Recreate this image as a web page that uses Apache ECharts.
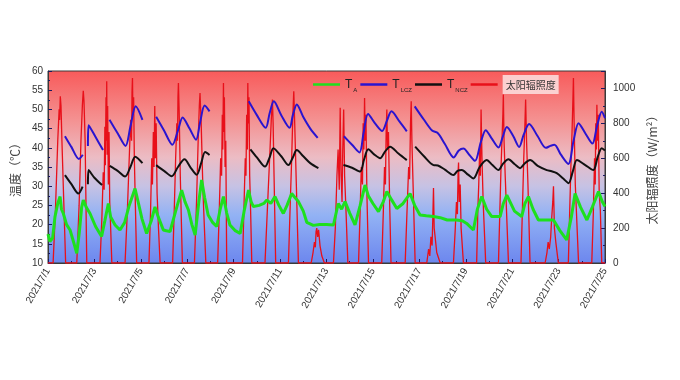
<!DOCTYPE html>
<html>
<head>
<meta charset="utf-8">
<script src="https://cdn.jsdelivr.net/npm/echarts@6/dist/echarts.min.js"></script>
<style>html,body{margin:0;padding:0;background:#fff;}#c{width:680px;height:380px;}</style>
</head>
<body>
<div id="c"></div>
<script>
// x = days since 2021/7/1 00:00
const tickLabels = ['2021/7/1','2021/7/3','2021/7/5','2021/7/7','2021/7/9','2021/7/11','2021/7/13','2021/7/15','2021/7/17','2021/7/19','2021/7/21','2021/7/23','2021/7/25'];
const seriesNames = ['TA', 'TLCZ', 'TNCZ', '太阳辐照度'];

// T_A (°C)
const taData = [[0,17.5],[0.08,15.6],[0.2,16.5],[0.3,22.0],[0.42,25.5],[0.52,27.3],[0.58,24.0],[0.66,22.9],[0.8,20.0],[0.95,18.6],[1.1,15.5],[1.24,12.5],[1.35,18.0],[1.45,24.5],[1.52,26.4],[1.65,24.5],[1.81,22.9],[2.05,19.5],[2.31,16.9],[2.45,21.0],[2.6,25.5],[2.7,22.0],[2.89,19.9],[3.1,18.6],[3.3,20.5],[3.5,25.0],[3.75,29.4],[3.9,25.5],[4.05,21.5],[4.25,17.7],[4.45,21.0],[4.61,24.6],[4.75,22.0],[4.97,18.6],[5.1,18.4],[5.26,18.2],[5.5,23.5],[5.76,29.0],[5.9,26.0],[6.05,23.8],[6.2,20.0],[6.34,17.3],[6.5,26.0],[6.62,31.6],[6.75,27.0],[6.9,22.5],[7.1,20.5],[7.27,19.5],[7.42,24.0],[7.56,27.3],[7.7,23.0],[7.84,19.9],[8.05,18.5],[8.28,17.7],[8.45,23.5],[8.64,29.0],[8.75,26.0],[8.85,24.7],[9.1,25.0],[9.3,25.5],[9.43,26.4],[9.6,25.5],[9.78,27.3],[9.95,25.0],[10.14,22.9],[10.3,25.0],[10.5,28.1],[10.65,27.0],[10.79,26.0],[11.0,23.5],[11.15,20.6],[11.43,19.8],[11.7,20.0],[12.0,20.0],[12.3,19.9],[12.45,24.0],[12.51,25.5],[12.65,24.0],[12.8,26.0],[13.0,23.0],[13.23,19.9],[13.45,25.0],[13.66,30.3],[13.8,27.5],[14.0,25.5],[14.24,23.4],[14.45,26.0],[14.6,28.6],[14.8,26.5],[15.03,24.2],[15.3,25.5],[15.6,28.1],[15.8,25.0],[16.03,22.5],[16.3,22.3],[16.61,22.1],[16.9,21.8],[17.2,21.2],[17.6,21.2],[17.85,21.0],[18.04,20.3],[18.33,18.6],[18.5,24.0],[18.69,27.3],[18.9,24.0],[19.12,22.1],[19.48,22.1],[19.62,25.5],[19.77,27.7],[20.1,23.5],[20.41,22.1],[20.55,25.5],[20.7,27.3],[20.9,24.0],[21.13,21.2],[21.45,21.2],[21.78,21.2],[22.05,18.5],[22.35,16.0],[22.55,22.0],[22.71,28.1],[22.95,24.5],[23.22,21.2],[23.45,24.5],[23.72,28.6],[23.88,26.0],[24.0,24.7]];

// T_LCZ (°C), null = gap in record
const tlczData = [[0.73,43.0],[1.0,40.3],[1.33,37.1],[1.5,38.2],[1.6,null],
  [1.72,40.5],[1.75,45.9],[2.05,42.8],[2.37,39.4],[2.5,null],
  [2.65,47.3],[3.0,43.8],[3.34,40.5],[3.55,45.5],[3.78,50.8],[4.07,47.3],[4.3,null],
  [4.66,48.1],[5.0,44.5],[5.36,40.8],[5.6,44.5],[5.8,47.9],[6.1,45.0],[6.38,42.1],[6.55,46.5],[6.75,51.0],[6.96,49.5],[7.5,null],
  [8.65,52.1],[9.0,48.5],[9.38,45.2],[9.55,49.0],[9.73,52.1],[10.05,48.5],[10.41,45.2],[10.55,48.5],[10.72,51.3],[11.0,48.0],[11.3,45.0],[11.62,42.6],[12.2,null],
  [12.75,43.0],[13.1,40.8],[13.42,38.8],[13.6,44.0],[13.79,48.8],[14.1,46.3],[14.4,44.4],[14.6,47.0],[14.8,49.5],[15.15,46.8],[15.46,44.3],[15.6,null],
  [15.8,50.8],[16.2,47.3],[16.55,44.5],[16.8,43.8],[17.1,41.0],[17.48,37.5],[17.7,39.3],[17.9,39.8],[18.15,38.2],[18.4,36.6],[18.65,41.5],[18.86,44.6],[19.1,42.6],[19.41,40.1],[19.6,43.0],[19.77,45.4],[20.05,43.0],[20.3,40.2],[20.5,43.5],[20.73,46.2],[21.1,43.0],[21.45,40.0],[21.65,40.5],[21.82,40.8],[22.1,38.2],[22.42,35.8],[22.65,42.0],[22.86,46.4],[23.15,43.8],[23.46,41.1],[23.65,45.5],[23.86,49.4],[24.0,47.7]];

// T_NCZ (°C), null = gap in record
const tnczData = [[0.73,32.9],[1.0,30.6],[1.31,28.1],[1.49,29.9],[1.6,null],
  [1.72,30.5],[1.75,34.2],[2.0,32.2],[2.33,30.3],[2.5,null],
  [2.66,35.3],[3.0,34.0],[3.32,32.5],[3.55,35.0],[3.76,37.7],[4.07,36.0],[4.3,null],
  [4.66,35.5],[5.0,34.0],[5.33,32.6],[5.6,35.0],[5.88,37.0],[6.15,34.8],[6.41,33.0],[6.6,36.0],[6.77,38.9],[6.96,38.1],[7.5,null],
  [8.72,39.6],[9.0,37.5],[9.35,35.1],[9.55,37.5],[9.71,39.9],[10.05,37.8],[10.36,35.5],[10.55,37.5],[10.72,39.4],[11.0,37.8],[11.3,36.0],[11.65,34.7],[12.2,null],
  [12.73,35.5],[13.1,34.8],[13.45,33.8],[13.62,37.0],[13.8,39.6],[14.05,38.3],[14.31,37.3],[14.52,39.0],[14.74,40.3],[15.1,38.5],[15.46,36.8],[15.6,null],
  [15.82,40.3],[16.2,37.8],[16.61,35.5],[16.8,35.4],[17.1,34.3],[17.47,32.9],[17.65,34.0],[17.83,34.2],[18.1,33.0],[18.33,32.0],[18.6,35.0],[18.9,36.8],[19.15,35.5],[19.41,34.2],[19.6,35.8],[19.84,37.0],[20.1,35.8],[20.34,34.7],[20.55,36.0],[20.77,36.8],[21.1,35.3],[21.49,34.2],[21.7,33.9],[21.92,33.4],[22.2,32.0],[22.43,30.8],[22.62,34.0],[22.79,36.8],[23.15,35.5],[23.5,34.2],[23.68,37.5],[23.86,39.9],[24.0,39.3]];

// Solar irradiance (W/m2)
const solarData = [[0,0],
  [0.22,0],[0.32,300],[0.42,700],[0.48,880],[0.5,820],[0.53,955],[0.56,900],[0.6,700],[0.68,350],[0.76,0],
  [1.24,0],[1.34,330],[1.42,700],[1.48,900],[1.52,987],[1.55,930],[1.6,700],[1.67,0],
  [2.24,0],[2.32,250],[2.38,520],[2.42,420],[2.45,780],[2.47,560],[2.5,950],[2.52,700],[2.53,1041],[2.55,620],[2.57,900],[2.6,450],[2.63,750],[2.66,350],[2.7,200],[2.75,0],
  [3.32,0],[3.42,300],[3.5,600],[3.56,820],[3.6,700],[3.62,980],[3.64,1060],[3.66,850],[3.69,950],[3.72,600],[3.77,300],[3.82,0],
  [4.35,0],[4.42,300],[4.47,600],[4.5,450],[4.54,750],[4.57,550],[4.6,900],[4.63,600],[4.66,800],[4.7,400],[4.76,200],[4.83,0],
  [5.37,0],[5.45,350],[5.5,600],[5.55,800],[5.58,700],[5.6,950],[5.62,1031],[5.65,880],[5.7,500],[5.79,0],
  [6.31,0],[6.4,350],[6.47,700],[6.52,900],[6.55,974],[6.6,800],[6.68,400],[6.8,0],
  [7.31,0],[7.38,300],[7.44,600],[7.48,500],[7.51,850],[7.53,650],[7.56,1031],[7.58,750],[7.6,950],[7.63,550],[7.66,700],[7.7,0],
  [8.38,0],[8.45,350],[8.5,600],[8.53,500],[8.56,850],[8.59,650],[8.61,1031],[8.63,800],[8.66,950],[8.69,500],[8.73,300],[8.78,0],
  [9.35,0],[9.45,300],[9.55,600],[9.62,820],[9.67,936],[9.7,800],[9.74,500],[9.81,0],
  [10.36,0],[10.44,350],[10.5,600],[10.55,850],[10.59,984],[10.63,800],[10.7,450],[10.79,0],
  [11.34,0],[11.42,60],[11.48,120],[11.52,90],[11.55,180],[11.58,200],[11.62,150],[11.66,190],[11.72,100],[11.8,40],[11.91,0],
  [12.3,0],[12.38,200],[12.45,500],[12.5,650],[12.55,420],[12.59,890],[12.63,500],[12.67,350],[12.7,650],[12.74,880],[12.78,500],[12.84,300],[12.92,0],
  [13.38,0],[13.45,300],[13.5,550],[13.55,450],[13.58,800],[13.61,650],[13.64,945],[13.67,700],[13.7,850],[13.74,400],[13.81,0],
  [14.38,0],[14.45,300],[14.5,550],[14.54,450],[14.57,750],[14.6,879],[14.63,650],[14.67,750],[14.72,350],[14.78,0],
  [15.39,0],[15.47,300],[15.54,550],[15.58,480],[15.62,800],[15.65,926],[15.68,700],[15.72,500],[15.82,0],
  [16.32,0],[16.4,80],[16.45,40],[16.5,150],[16.55,100],[16.58,250],[16.61,430],[16.64,200],[16.68,150],[16.75,60],[16.9,0],
  [17.47,0],[17.55,200],[17.6,350],[17.64,280],[17.67,520],[17.69,575],[17.72,350],[17.76,450],[17.8,200],[17.9,0],
  [18.47,0],[18.52,300],[18.56,450],[18.6,650],[18.63,500],[18.66,879],[18.7,600],[18.75,350],[18.86,0],
  [19.41,0],[19.47,300],[19.52,550],[19.56,700],[19.6,850],[19.62,965],[19.65,700],[19.7,500],[19.84,0],
  [20.38,0],[20.44,300],[20.5,600],[20.55,800],[20.58,936],[20.62,700],[20.68,450],[20.77,0],
  [21.42,0],[21.5,60],[21.55,120],[21.6,80],[21.66,150],[21.7,250],[21.75,350],[21.78,440],[21.82,200],[21.88,120],[21.99,0],
  [22.42,0],[22.48,300],[22.53,550],[22.58,750],[22.62,950],[22.64,1060],[22.67,800],[22.72,450],[22.86,0],
  [23.43,0],[23.5,300],[23.55,600],[23.58,450],[23.6,800],[23.63,650],[23.65,907],[23.68,700],[23.71,850],[23.75,400],[23.8,300],[23.86,0],[24.0,0]];

function prep(arr) { return arr.map(p => p[1] === null ? [p[0], '-'] : p); }

const chart = echarts.init(document.getElementById('c'), null, {renderer: 'canvas'});
const latin = 'Liberation Sans';
const cjk = '"Noto Sans CJK SC", sans-serif';
const legendText = {
  'TA': '{t|T}{s|A}',
  'TLCZ': '{t|T}{s|LCZ}',
  'TNCZ': '{t|T}{s|NCZ}',
  '太阳辐照度': '{c|太阳辐照度}'
};
chart.setOption({
  animation: false,
  backgroundColor: '#ffffff',
  grid: {
    left: 48, right: 75, top: 71, bottom: 117,
    show: true, borderColor: '#3a3a3a', borderWidth: 1,
    backgroundColor: new echarts.graphic.LinearGradient(0, 0, 0, 1, [
      {offset: 0, color: '#f85a5a'},
      {offset: 0.25, color: '#f49090'},
      {offset: 0.45, color: '#ecbcc4'},
      {offset: 0.6, color: '#c6c2e4'},
      {offset: 0.75, color: '#92b2f4'},
      {offset: 1, color: '#6c86ee'}
    ])
  },
  legend: {
    data: seriesNames,
    left: 308, top: 70,
    icon: 'rect',
    itemWidth: 27, itemHeight: 2.5, itemGap: 3,
    formatter: name => legendText[name],
    textStyle: {
      fontFamily: latin,
      rich: {
        t: {fontSize: 12, color: '#222', fontFamily: latin, lineHeight: 18},
        s: {fontSize: 6, color: '#222', fontFamily: latin, verticalAlign: 'bottom', lineHeight: 8, padding: [0, 0, 0, 1]},
        c: {fontSize: 10, color: '#333', fontFamily: cjk, backgroundColor: 'rgba(252,226,226,0.85)', padding: [5, 3, 4, 3], lineHeight: 14}
      }
    }
  },
  xAxis: {
    type: 'value', min: 0, max: 24, interval: 2,
    axisLine: {show: true, lineStyle: {color: '#3a3a3a'}},
    axisTick: {show: true, inside: true, length: 4, lineStyle: {color: '#1a1a60'}},
    minorTick: {show: true, splitNumber: 2, length: 2, lineStyle: {color: '#1a1a60'}},
    splitLine: {show: false},
    axisLabel: {
      rotate: 60, fontSize: 10, color: '#333', fontFamily: latin, margin: 6,
      formatter: v => tickLabels[Math.round(v / 2)] || ''
    }
  },
  yAxis: [{
    type: 'value', min: 10, max: 60, interval: 5, position: 'left',
    name: '温度（℃）', nameLocation: 'middle', nameGap: 26, nameRotate: 90,
    nameTextStyle: {fontSize: 12, color: '#444', fontFamily: cjk},
    axisLine: {show: true, lineStyle: {color: '#3a3a3a'}},
    axisTick: {show: true, inside: true, length: 4, lineStyle: {color: '#1a1a60'}},
    minorTick: {show: true, splitNumber: 2, length: 2, lineStyle: {color: '#1a1a60'}},
    splitLine: {show: false},
    axisLabel: {fontSize: 10, color: '#333', fontFamily: latin, margin: 5}
  }, {
    type: 'value', min: 0, max: 1100, interval: 200, position: 'right',
    name: '太阳辐照度（W/m²）', nameLocation: 'middle', nameGap: 37, nameRotate: 90,
    nameTextStyle: {fontSize: 12, color: '#444', fontFamily: cjk},
    axisLine: {show: true, lineStyle: {color: '#3a3a3a'}},
    axisTick: {show: true, inside: true, length: 4, lineStyle: {color: '#1a1a60'}},
    minorTick: {show: true, splitNumber: 2, length: 2, lineStyle: {color: '#1a1a60'}},
    splitLine: {show: false},
    axisLabel: {fontSize: 10, color: '#333', fontFamily: latin, margin: 8,
      formatter: v => v > 1000 ? '' : String(v)}
  }],
  series: [{
    name: seriesNames[3], type: 'line', yAxisIndex: 1, data: solarData,
    symbol: 'none', z: 2,
    lineStyle: {color: '#e8101a', width: 1.3}, itemStyle: {color: '#e8101a'}
  }, {
    name: seriesNames[0], type: 'line', yAxisIndex: 0, data: prep(taData),
    symbol: 'none', z: 3,
    lineStyle: {color: '#1ee01e', width: 3}, itemStyle: {color: '#1ee01e'}
  }, {
    name: seriesNames[1], type: 'line', yAxisIndex: 0, data: prep(tlczData),
    symbol: 'none', z: 4, smooth: 0.3, connectNulls: false,
    lineStyle: {color: '#2a14d0', width: 2}, itemStyle: {color: '#2a14d0'}
  }, {
    name: seriesNames[2], type: 'line', yAxisIndex: 0, data: prep(tnczData),
    symbol: 'none', z: 4, smooth: 0.3, connectNulls: false,
    lineStyle: {color: '#111111', width: 2}, itemStyle: {color: '#111111'}
  }]
});
</script>
</body>
</html>
